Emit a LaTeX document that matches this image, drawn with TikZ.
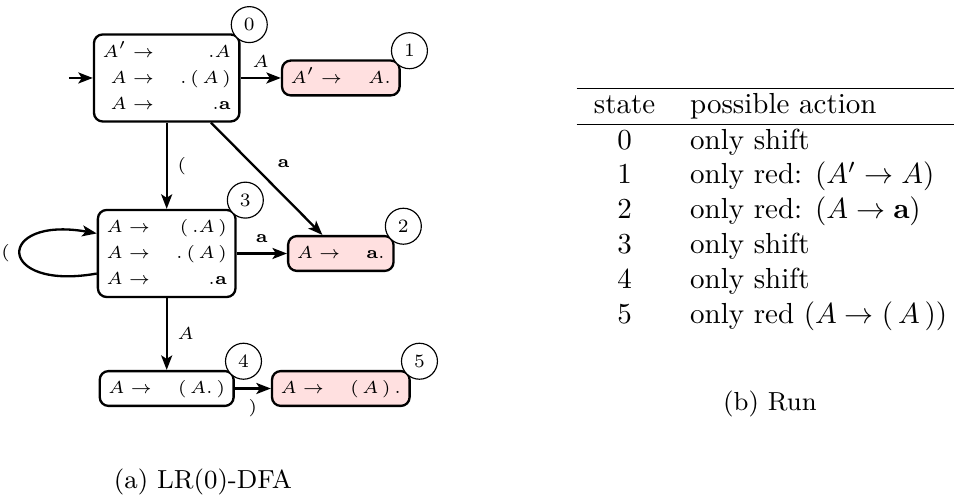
\documentclass[tikz,border=0pt]{standalone}
\usetikzlibrary{arrows.meta}

% item dot and terminals of the grammar
\newcommand{\idot}{\mathbf{.}}
\newcommand{\tlp}{\mathbf{(}}
\newcommand{\trp}{\mathbf{)}}
\newcommand{\tma}{\mathbf{a}}
\newcommand{\prods}[1]{$\begin{array}{@{}r@{\hspace{9pt}}r@{}}#1\end{array}$}

\begin{document}
\begin{tikzpicture}[>={Stealth[length=5pt,width=3.8pt,inset=1.2pt]},
  item/.style={draw,thick,rounded corners=3pt,inner xsep=3pt,inner ysep=1.5pt,font=\fontsize{6.5}{9}\selectfont},
  final/.style={item,fill=red!12},
  num/.style={draw,circle,fill=white,minimum size=12.4pt,inner sep=0pt,font=\fontsize{6.5}{8}\selectfont,xshift=3pt,yshift=3pt},
  lbl/.style={font=\fontsize{6}{7}\selectfont}]
\useasboundingbox (0,0) rectangle (11.561,6.035);

% LR(0) states
\node[item] (s0) at (2.02,5.09) {\prods{A'\to & \idot A\\ A\to & \idot\,\tlp\,A\,\trp\\ A\to & \idot\tma}};
\node[final] (s1) at (4.13,5.09) {\prods{A'\to & A\idot}};
\node[item] (s3) at (2.02,2.963) {\prods{A\to & \tlp\,\idot A\,\trp\\ A\to & \idot\,\tlp\,A\,\trp\\ A\to & \idot\tma}};
\node[final] (s2) at (4.13,2.963) {\prods{A\to & \tma\idot}};
\node[item] (s4) at (2.02,1.327) {\prods{A\to & \tlp\,A\idot\,\trp}};
\node[final] (s5) at (4.13,1.327) {\prods{A\to & \tlp\,A\,\trp\,\idot}};

% state numbers
\node[num] (n0) at (s0.north east) {0};
\node[num] (n1) at (s1.north east) {1};
\node[num] (n2) at (s2.north east) {2};
\node[num] (n3) at (s3.north east) {3};
\node[num] (n4) at (s4.north east) {4};
\node[num] (n5) at (s5.north east) {5};

% transitions
\coordinate (start) at (0.836,5.09);
\draw[->,thick] (start) -- (s0);
\draw[->,thick] (s0) -- (s1) node[midway,above,lbl] {$A$};
\draw[->,thick] (s0) -- (s3) node[midway,right,lbl] {$\tlp$};
\draw[->,thick] (s0) -- (s2) node[midway,above right,lbl] {$\tma$};
\draw[->,thick] (s3) -- (s2) node[midway,above,lbl] {$\tma$};
\draw[->,thick] (s3.196) to[out=190,in=170,distance=1.25cm] node[left,lbl] {$\tlp$} (s3.164);
\draw[->,thick] (s3) -- (s4) node[midway,right,lbl] {$A$};
\draw[->,thick] (s4) -- (s5) node[midway,below,lbl] {$\trp$};

% action table
\node[anchor=north west,inner sep=0pt] (run) at (6.980,4.980) {%
\begin{tabular}{cl}
\hline
state & possible action\\
\hline
0 & only shift\\
1 & only red: $(A'\to A)$\\
2 & only red: $(A\to\tma)$\\
3 & only shift\\
4 & only shift\\
5 & only red $(A\to\tlp\,A\,\trp)$
\end{tabular}};

% captions
\node[font=\small] (capa) at (2.46,0.194) {(a) LR(0)-DFA};
\node[font=\small] (capb) at (9.331,1.139) {(b) Run};
\end{tikzpicture}
\end{document}
